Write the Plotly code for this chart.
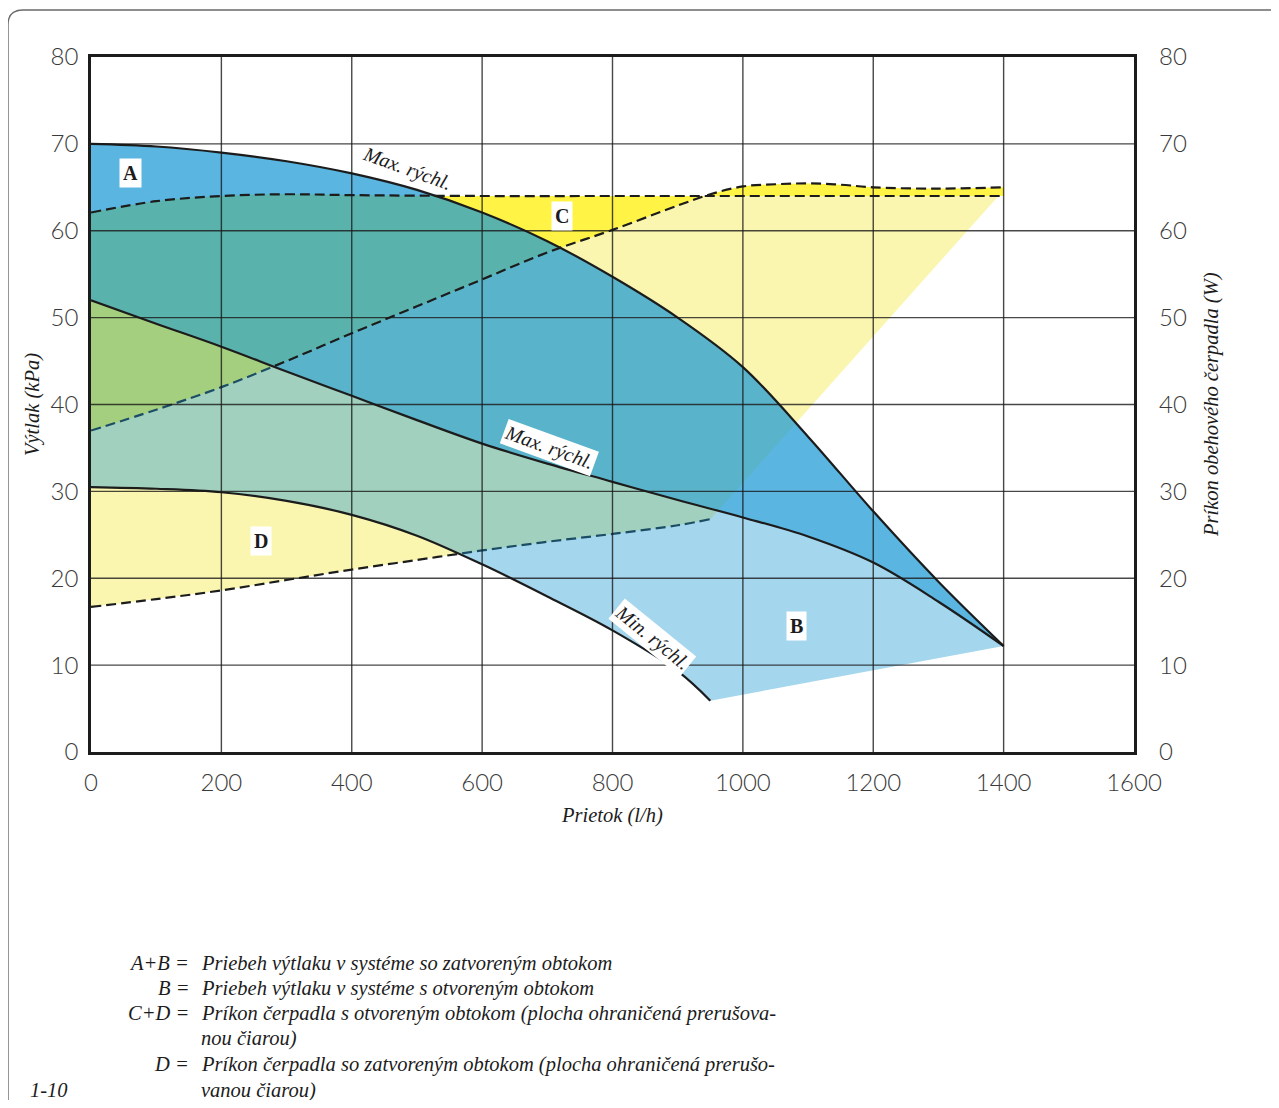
import plotly.graph_objects as go

# ---------------- data ----------------
flow = [0, 100, 200, 300, 400, 500, 600, 700, 800, 900, 1000, 1100, 1200, 1300, 1400]
max_speed_closed = [70.0, 69.7, 69.0, 68.0, 66.6, 64.7, 62.1, 58.8, 54.7, 50.0, 44.3, 36.3, 27.7, 19.6, 12.2]
max_speed_open = [52.0, 49.3, 46.65, 43.8, 41.0, 38.2, 35.5, 33.2, 31.1, 29.0, 27.0, 24.8, 21.8, 17.3, 12.2]

min_flow = [0, 100, 200, 300, 400, 500, 600, 700, 800, 900, 950]
min_speed = [30.5, 30.3, 29.9, 28.9, 27.3, 24.9, 21.6, 17.9, 14.0, 9.3, 5.9]
b_edge_flow = [1400]
b_edge = [12.2]

power_top_flow = [0, 100, 200, 300, 400, 600, 800, 1000, 1200, 1400]
power_top = [62.1, 63.4, 64.0, 64.2, 64.1, 64.0, 64.0, 64.0, 64.0, 64.0]

power_rise_flow = [0, 100, 200, 300, 400, 500, 600, 700, 800, 900, 950, 1000, 1050, 1100, 1150, 1200, 1300, 1400]
power_rise = [37.0, 39.4, 42.0, 45.0, 48.2, 51.3, 54.4, 57.5, 60.1, 62.9, 64.2, 65.1, 65.35, 65.45, 65.3, 65.0, 64.85, 65.0]

power_low_flow = [0, 100, 200, 300, 400, 500, 600, 700, 800, 900, 950]
power_low = [16.7, 17.6, 18.6, 19.8, 21.0, 22.1, 23.2, 24.2, 25.1, 26.1, 26.8]
pale_edge_flow = [1392]
pale_edge = [64.0]

x_ticks = [0, 200, 400, 600, 800, 1000, 1200, 1400, 1600]
y_ticks = [0, 10, 20, 30, 40, 50, 60, 70, 80]

footnote_keys = ["A+B =", "B =", "C+D =", "D ="]
footnote_texts = [
    "Priebeh výtlaku v systéme so zatvoreným obtokom",
    "Priebeh výtlaku v systéme s otvoreným obtokom",
    "Príkon čerpadla s otvoreným obtokom (plocha ohraničená prerušova-",
    "nou čiarou)",
    "Príkon čerpadla so zatvoreným obtokom (plocha ohraničená prerušo-",
    "vanou čiarou)",
]

# ---------------- layout geometry ----------------
# page has an 8px body margin; figure is sized so no scrollbars appear
OFF = 8
W, H = 1263, 1092
ML, MR, MT, MB = 83, 137, 49, 348
PW, PH = W - ML - MR, H - MT - MB
PLOT_L = OFF + ML          # page x of plot left edge
PLOT_B = OFF + H - MB      # page y of plot bottom edge


def px(x):
    return (x - PLOT_L) / PW


def py(y):
    return (PLOT_B - y) / PH


PALE = "#faf6b0"
BRIGHT = "#fff345"
BLUE_A = "rgba(27,152,212,0.72)"
BLUE_B = "rgba(27,152,212,0.40)"
INK = "#1c1c1c"
SERIF = "Liberation Serif"
DASH = "10px,5px"

fig = go.Figure()

# ---- bottom subplot (x, y): yellow fills + region A ----
fig.add_trace(go.Scatter(x=power_top_flow, y=power_top, mode="lines",
                         line=dict(width=0, shape="spline"), hoverinfo="skip", showlegend=False))
fig.add_trace(go.Scatter(x=power_low_flow + pale_edge_flow, y=power_low + pale_edge, mode="lines",
                         line=dict(width=0), fill="tonexty", fillcolor=PALE,
                         hoverinfo="skip", showlegend=False))
fig.add_trace(go.Scatter(x=power_top_flow, y=power_top, mode="lines",
                         line=dict(width=0, shape="spline"), hoverinfo="skip", showlegend=False))
fig.add_trace(go.Scatter(x=power_rise_flow, y=power_rise, mode="lines",
                         line=dict(width=0, shape="spline"), fill="tonexty", fillcolor=BRIGHT,
                         hoverinfo="skip", showlegend=False))
fig.add_trace(go.Scatter(x=flow, y=max_speed_closed, mode="lines",
                         line=dict(width=0, shape="spline"), hoverinfo="skip", showlegend=False))
fig.add_trace(go.Scatter(x=flow, y=max_speed_open, mode="lines",
                         line=dict(width=0, shape="spline"), fill="tonexty", fillcolor=BLUE_A,
                         hoverinfo="skip", showlegend=False))

# ---- top subplot (x, y2): dashed power lines, region B, solid curves ----
for fx, fy in [(power_top_flow, power_top), (power_rise_flow, power_rise), (power_low_flow, power_low)]:
    fig.add_trace(go.Scatter(x=fx, y=fy, yaxis="y2", mode="lines",
                             line=dict(color=INK, width=2.2, dash=DASH, shape="spline"),
                             hoverinfo="skip", showlegend=False))
fig.add_trace(go.Scatter(x=flow, y=max_speed_open, yaxis="y2", mode="lines",
                         line=dict(width=0, shape="spline"), hoverinfo="skip", showlegend=False))
fig.add_trace(go.Scatter(x=min_flow + b_edge_flow, y=min_speed + b_edge, yaxis="y2", mode="lines",
                         line=dict(width=0), fill="tonexty", fillcolor=BLUE_B,
                         hoverinfo="skip", showlegend=False))
for fx, fy in [(flow, max_speed_closed), (flow, max_speed_open), (min_flow, min_speed)]:
    fig.add_trace(go.Scatter(x=fx, y=fy, yaxis="y2", mode="lines",
                             line=dict(color=INK, width=2.2, shape="spline"),
                             hoverinfo="skip", showlegend=False))

# ---------------- grid lines (on top of the fills) ----------------
shapes = []
for xv in x_ticks[1:-1]:
    shapes.append(dict(type="line", xref="x", yref="paper", x0=xv, x1=xv, y0=0, y1=1,
                       line=dict(color="rgba(25,25,25,0.8)", width=1.4), layer="above"))
for yv in y_ticks[1:-1]:
    shapes.append(dict(type="line", xref="paper", yref="y", x0=0, x1=1, y0=yv, y1=yv,
                       line=dict(color="rgba(25,25,25,0.8)", width=1.4), layer="above"))
# outer rounded frame of the page
r = 15
path = (f"M {px(8)},{py(1130)} L {px(8)},{py(10 + r)} "
        f"Q {px(8)},{py(10)} {px(8 + r)},{py(10)} L {px(1300)},{py(10)}")
shapes.append(dict(type="path", xref="paper", yref="paper", path=path,
                   line=dict(color="#6a6a6a", width=1.4), layer="below"))

# ---------------- annotations ----------------
ann = []


def box_label(txt, x, y):
    ann.append(dict(x=x, y=y, xref="x", yref="y", text=f"<b>{txt}</b>", showarrow=False,
                    font=dict(family=SERIF, size=20, color=INK), bgcolor="white", borderpad=3))


box_label("A", 60, 66.6)
box_label("C", 723, 61.7)
box_label("D", 261, 24.3)
box_label("B", 1083, 14.5)


def curve_label(txt, x, y, ang, bg):
    ann.append(dict(x=x, y=y, xref="x", yref="y", text=f"<i>{txt}</i>", showarrow=False,
                    textangle=ang, font=dict(family=SERIF, size=20, color=INK),
                    bgcolor=bg, borderpad=1))


curve_label("Max. rýchl.", 485, 67.2, 20, "rgba(0,0,0,0)")
curve_label("Max. rýchl.", 703, 35.1, 20, "white")
curve_label("Min. rýchl.", 861, 13.2, 39, "white")

# axis titles
TITLE_FONT = dict(family=SERIF, size=20.5, color=INK)
ann.append(dict(x=px(33), y=py(405), xref="paper", yref="paper", text="<i>Výtlak (kPa)</i>",
                showarrow=False, textangle=-90, xanchor="center", yanchor="middle", font=TITLE_FONT))
ann.append(dict(x=px(1212), y=py(405), xref="paper", yref="paper",
                text="<i>Príkon obehového čerpadla (W)</i>",
                showarrow=False, textangle=-90, xanchor="center", yanchor="middle", font=TITLE_FONT))
ann.append(dict(x=px(612), y=py(815), xref="paper", yref="paper", text="<i>Prietok (l/h)</i>",
                showarrow=False, xanchor="center", yanchor="middle", font=TITLE_FONT))

# footnotes
NOTE_FONT = dict(family=SERIF, size=20.5, color=INK)
line_y = [963, 988, 1013, 1038, 1064, 1090]
key_rows = [0, 1, 2, 4]
for k, row in zip(footnote_keys, key_rows):
    ann.append(dict(x=px(191), y=py(line_y[row]), xref="paper", yref="paper", text=f"<i>{k}</i>",
                    showarrow=False, xanchor="right", yanchor="middle", font=NOTE_FONT))
for i, t in enumerate(footnote_texts):
    ann.append(dict(x=px(199), y=py(line_y[i]), xref="paper", yref="paper", text=f"<i>{t}</i>",
                    showarrow=False, xanchor="left", yanchor="middle", font=NOTE_FONT))
ann.append(dict(x=px(28), y=py(1090), xref="paper", yref="paper", text="<i>1-10</i>",
                showarrow=False, xanchor="left", yanchor="middle", font=NOTE_FONT))

tick_font = dict(family="Lato", size=24, color="#3a3a3a", weight=300)

fig.update_layout(
    width=W, height=H, autosize=False,
    margin=dict(l=ML, r=MR, t=MT, b=MB),
    paper_bgcolor="white", plot_bgcolor="white",
    showlegend=False,
    xaxis=dict(range=[0, 1600], tickvals=x_ticks, ticktext=[str(v) for v in x_ticks],
               showgrid=False, zeroline=False, showline=True, mirror=True,
               linecolor=INK, linewidth=2.6, ticks="", tickfont=tick_font,
               ticklabelstandoff=7, fixedrange=True),
    yaxis=dict(range=[0, 80], tickvals=y_ticks, ticktext=[str(v) for v in y_ticks],
               showgrid=False, zeroline=False, showline=True, mirror=True,
               linecolor=INK, linewidth=2.6, ticks="", tickfont=tick_font,
               ticklabelstandoff=5, side="left", fixedrange=True),
    yaxis2=dict(range=[0, 80], tickvals=y_ticks, ticktext=[str(v) for v in y_ticks],
                overlaying="y", side="right", showgrid=False, zeroline=False, showline=False,
                ticks="", tickfont=tick_font, ticklabelstandoff=24, fixedrange=True),
    shapes=shapes,
    annotations=ann,
)

fig.write_html("out.html")
